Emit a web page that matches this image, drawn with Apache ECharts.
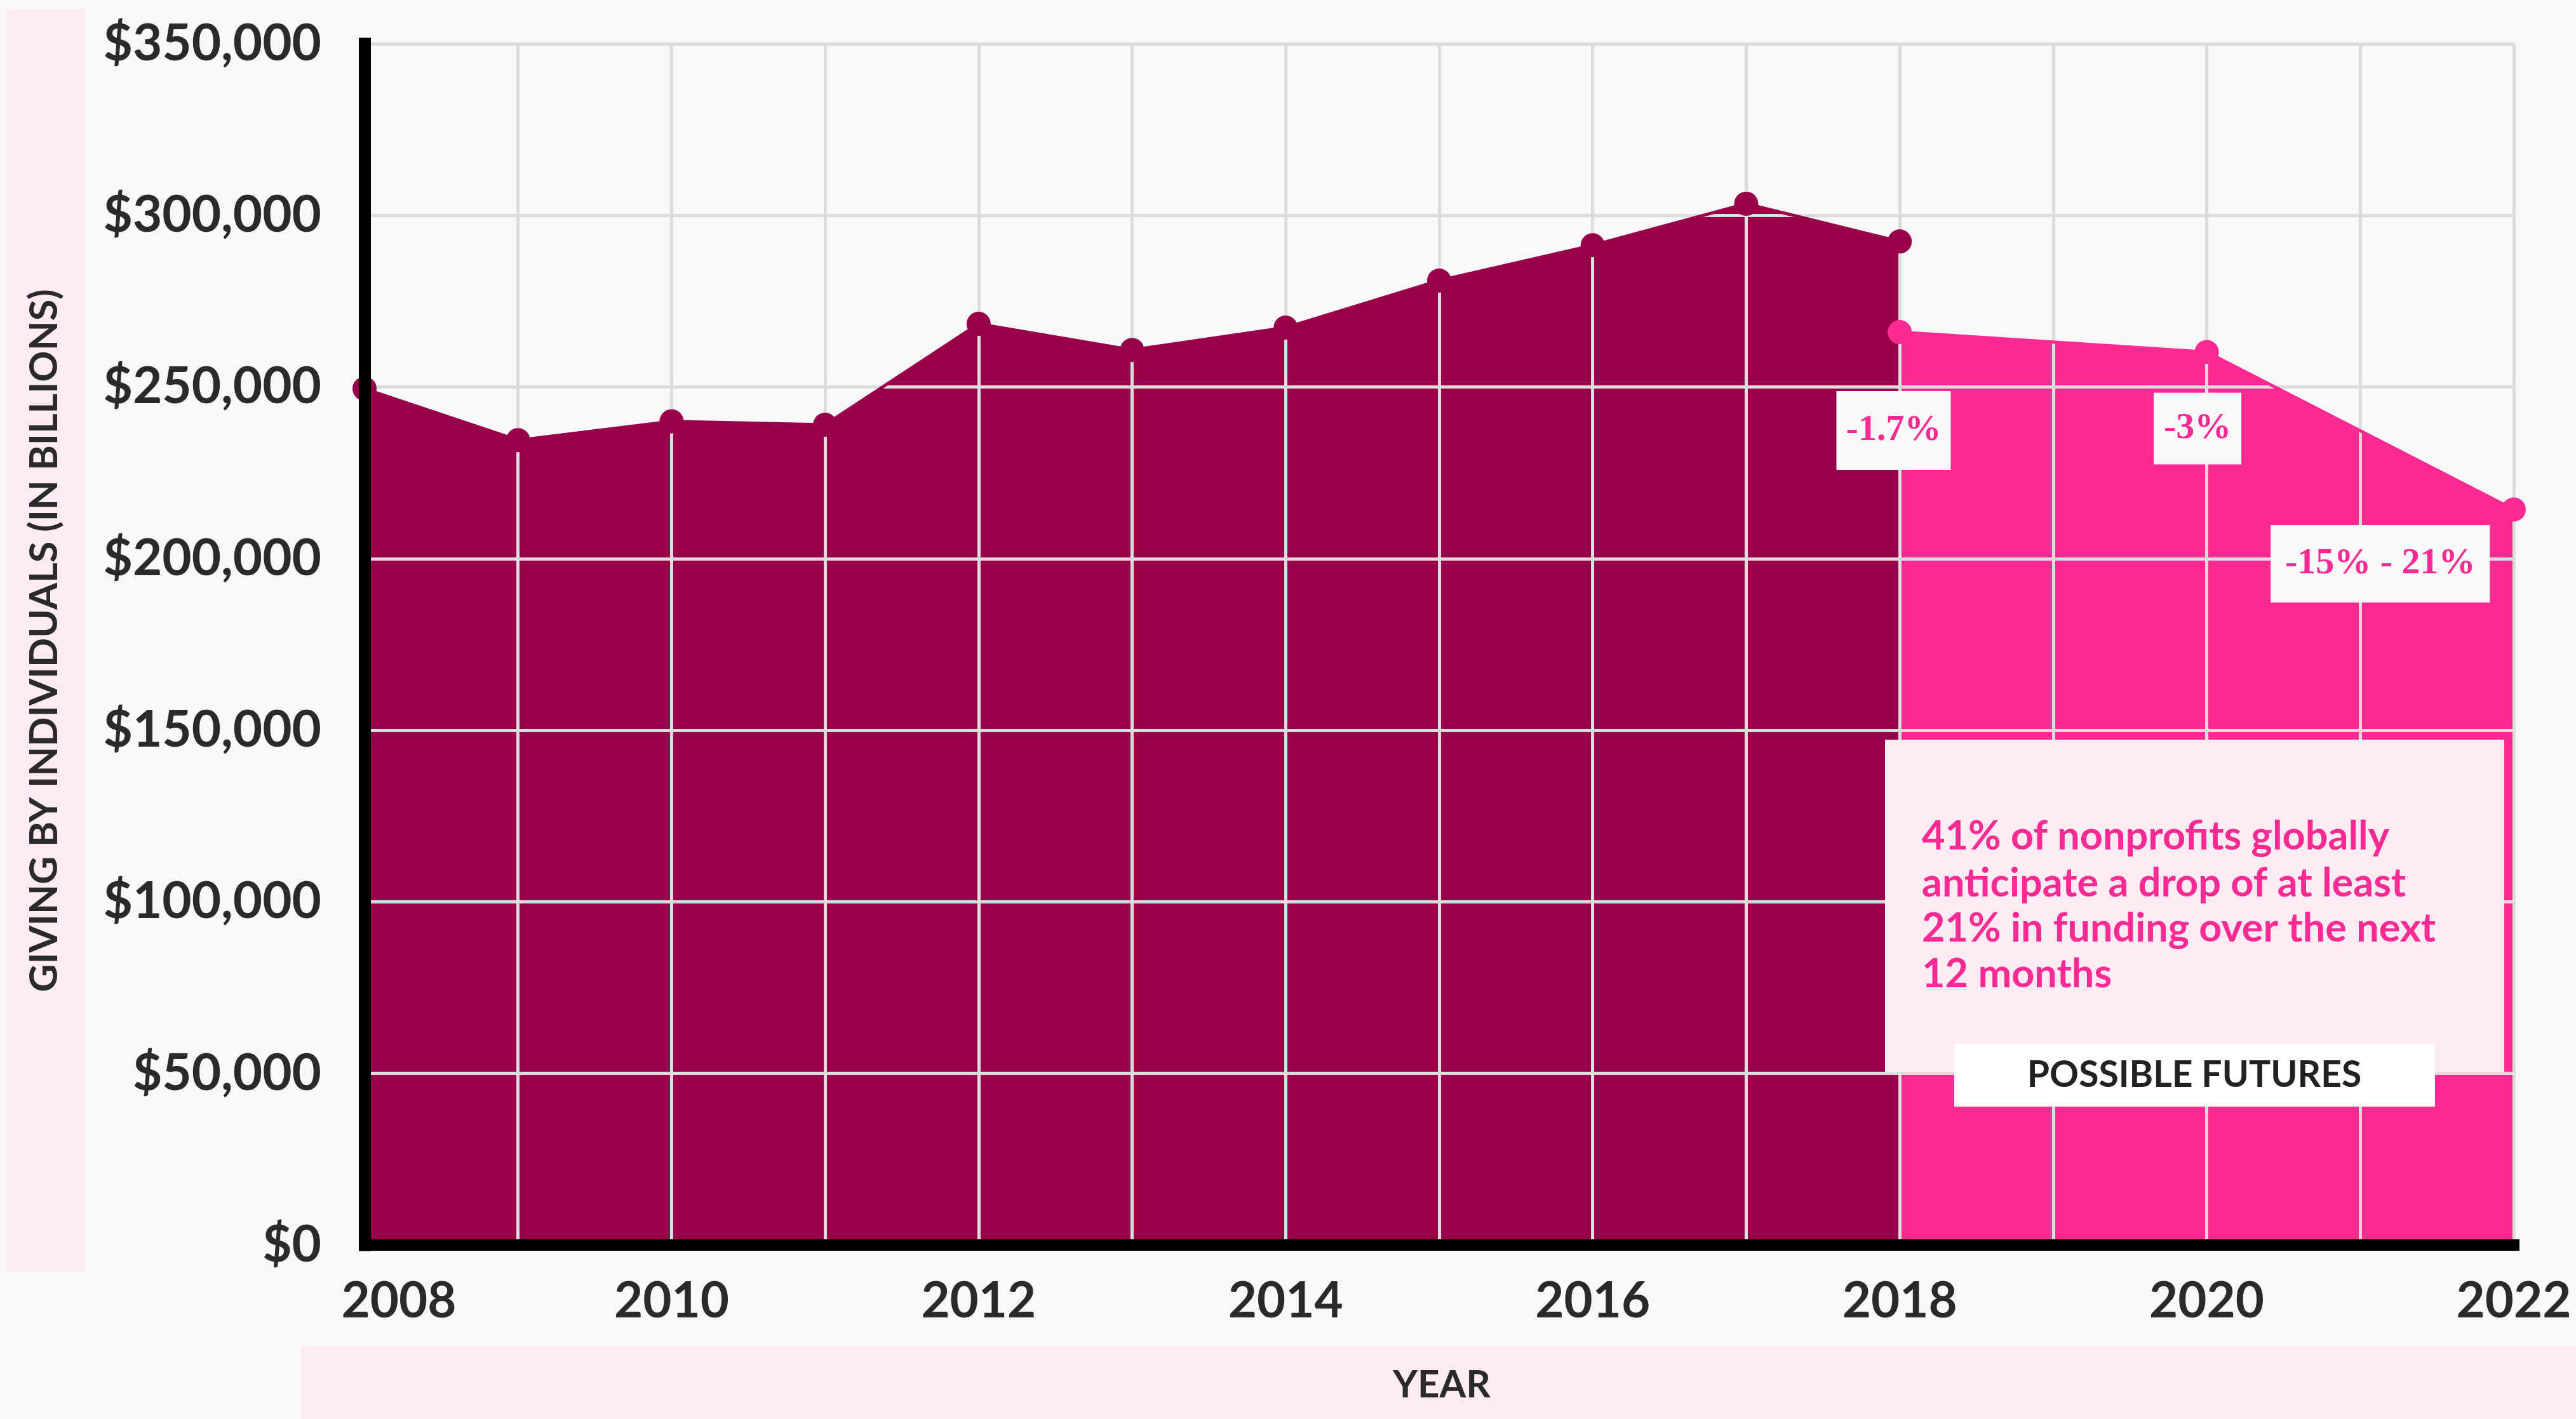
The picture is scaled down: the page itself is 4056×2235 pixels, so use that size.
<!DOCTYPE html>
<html>
<head>
<meta charset="utf-8">
<script src="https://cdn.jsdelivr.net/npm/echarts@6/dist/echarts.min.js"></script>
<style>
html,body{margin:0;padding:0;background:#f8f8f8;}
#chart{width:4056px;height:2235px;}
</style>
</head>
<body>
<div id="chart"></div>
<script>
// ---- data ----
const historicalYears = [2008, 2009, 2010, 2011, 2012, 2013, 2014, 2015, 2016, 2017, 2018];
const historicalGiving = [249500, 234500, 240000, 239000, 268400, 260800, 267300, 281000, 291300, 303400, 292400];
const projectedYears = [2018, 2020, 2022];
const projectedGiving = [266000, 260200, 214300];
const changeLabels = ['-1.7%', '-3%', '-15% - 21%'];
const calloutLines = ['41% of nonprofits globally', 'anticipate a drop of at least', '21% in funding over the next', '12 months'];
const calloutTag = 'POSSIBLE FUTURES';
const yAxisTitle = 'GIVING BY INDIVIDUALS (IN BILLIONS)';
const xAxisTitle = 'YEAR';

// ---- styles ----
const DARK = '#98004a';
const PINK = '#fc2a92';
const LIGHTPINK = '#ffebf3';
const TEXT = '#2a2a2a';
const GRID = '#dcdcdc';
const FONT = 'Lato, "Open Sans", sans-serif';
const SERIF = '"Liberation Serif", "DejaVu Serif", serif';

const histData = historicalYears.map((y, i) => [y, historicalGiving[i]]);
const projData = projectedYears.map((y, i) => [y, projectedGiving[i]]);

const chart = echarts.init(document.getElementById('chart'), null, {renderer: 'canvas'});

function fmtMoney(v) {
  return '$' + v.toLocaleString('en-US');
}

const gridBox = {left: 574, right: 98, top: 69, bottom: 274};

const option = {
  backgroundColor: '#f8f8f8',
  animation: false,
  grid: Object.assign({containLabel: false}, gridBox),
  xAxis: [{
    type: 'value', min: 2008, max: 2022, interval: 1, z: 2,
    axisLine: {show: false}, axisTick: {show: false},
    splitLine: {show: true, lineStyle: {color: GRID, width: 5}},
    axisLabel: {
      margin: 50, color: TEXT, fontFamily: FONT, fontWeight: 'bold', fontSize: 78,
      formatter: v => (v % 2 === 0 ? (v === 2008 ? '{first|' + v + '}' : String(v)) : ''),
      rich: {first: {padding: [0, 0, 0, 108], color: TEXT, fontFamily: FONT, fontWeight: 'bold', fontSize: 78}}
    }
  }, {
    type: 'value', min: 2008, max: 2022, interval: 1, z: 6, position: 'bottom', offset: 0,
    axisLine: {show: true, onZero: false, lineStyle: {color: '#000', width: 18, cap: 'square'}},
    axisTick: {show: false}, axisLabel: {show: false}, splitLine: {show: false}
  }],
  yAxis: [{
    type: 'value', min: 0, max: 350000, interval: 50000, z: 2,
    axisLine: {show: false}, axisTick: {show: false},
    splitLine: {show: true, lineStyle: {color: GRID, width: 5}},
    axisLabel: {
      margin: 68, color: TEXT, fontFamily: FONT, fontWeight: 'bold', fontSize: 80,
      formatter: v => fmtMoney(v)
    }
  }, {
    type: 'value', min: 0, max: 350000, interval: 50000, z: 6, position: 'left', offset: 0,
    axisLine: {show: true, onZero: false, lineStyle: {color: '#000', width: 19, cap: 'square'}},
    axisTick: {show: false}, axisLabel: {show: false}, splitLine: {show: false}
  }],
  series: [
    {
      type: 'line', data: histData, xAxisIndex: 0, yAxisIndex: 0, z: 1,
      showSymbol: false, lineStyle: {width: 0, color: DARK},
      areaStyle: {color: DARK, opacity: 1}, silent: true
    },
    {
      type: 'line', data: projData, xAxisIndex: 0, yAxisIndex: 0, z: 1,
      showSymbol: false, lineStyle: {width: 0, color: PINK},
      areaStyle: {color: PINK, opacity: 1}, silent: true
    },
    {
      type: 'line', data: histData, xAxisIndex: 0, yAxisIndex: 0, z: 4,
      symbol: 'circle', symbolSize: 38, showSymbol: true,
      lineStyle: {width: 5, color: DARK}, itemStyle: {color: DARK}
    },
    {
      type: 'line', data: projData, xAxisIndex: 0, yAxisIndex: 0, z: 4,
      symbol: 'circle', symbolSize: 38, showSymbol: true,
      lineStyle: {width: 5, color: PINK}, itemStyle: {color: PINK}
    }
  ]
};
chart.setOption(option);

// ---- annotations (placed relative to data space) ----
function px(x, y) { return chart.convertToPixel({xAxisIndex: 0, yAxisIndex: 0}, [x, y]); }

function labelBox(cx, cy, w, h, text) {
  return [
    {type: 'rect', z: 10, shape: {x: cx - w / 2, y: cy - h / 2, width: w, height: h}, style: {fill: '#f8f8f8'}},
    {type: 'text', z: 11, x: cx, y: cy, style: {text: text, fill: PINK, font: 'bold 58px ' + SERIF, textAlign: 'center', textVerticalAlign: 'middle'}}
  ];
}

const c1 = px(2017.96, 0); const c2 = px(2019.94, 0); const c3 = px(2021.13, 0);
const graphics = [];
// axis title boxes
graphics.push({type: 'rect', z: 0, shape: {x: 10, y: 15, width: 125, height: 1988}, style: {fill: LIGHTPINK}});
graphics.push({type: 'text', z: 1, x: 70, y: 1009, rotation: Math.PI / 2,
  style: {text: yAxisTitle, fill: TEXT, font: 'bold 61px ' + FONT, textAlign: 'center', textVerticalAlign: 'middle'}});
graphics.push({type: 'rect', z: 0, shape: {x: 474, y: 2120, width: 3582, height: 115}, style: {fill: LIGHTPINK}});
graphics.push({type: 'text', z: 1, x: 2270, y: 2182,
  style: {text: xAxisTitle, fill: TEXT, font: 'bold 60px ' + FONT, textAlign: 'center', textVerticalAlign: 'middle'}});

graphics.push(...labelBox(c1[0], 678, 180, 124, changeLabels[0]));
graphics.push(...labelBox(c2[0], 675, 138, 113, changeLabels[1]));
graphics.push(...labelBox(c3[0], 888, 345, 122, changeLabels[2]));

// callout
graphics.push({type: 'rect', z: 10, shape: {x: 2968, y: 1165, width: 975, height: 523}, style: {fill: LIGHTPINK}});
const lineYs = [1318, 1392, 1463, 1535];
calloutLines.forEach((t, i) => {
  graphics.push({type: 'text', z: 11, x: 3026, y: lineYs[i],
    style: {text: t, fill: PINK, font: 'bold 63px ' + FONT, textAlign: 'left', textVerticalAlign: 'middle'}});
});
graphics.push({type: 'rect', z: 12, shape: {x: 3077, y: 1644, width: 757, height: 99}, style: {fill: '#ffffff'}});
graphics.push({type: 'text', z: 13, x: 3455, y: 1694,
  style: {text: calloutTag, fill: '#222222', font: 'bold 57px ' + FONT, textAlign: 'center', textVerticalAlign: 'middle'}});

chart.setOption({graphic: {elements: graphics}});
</script>
</body>
</html>
